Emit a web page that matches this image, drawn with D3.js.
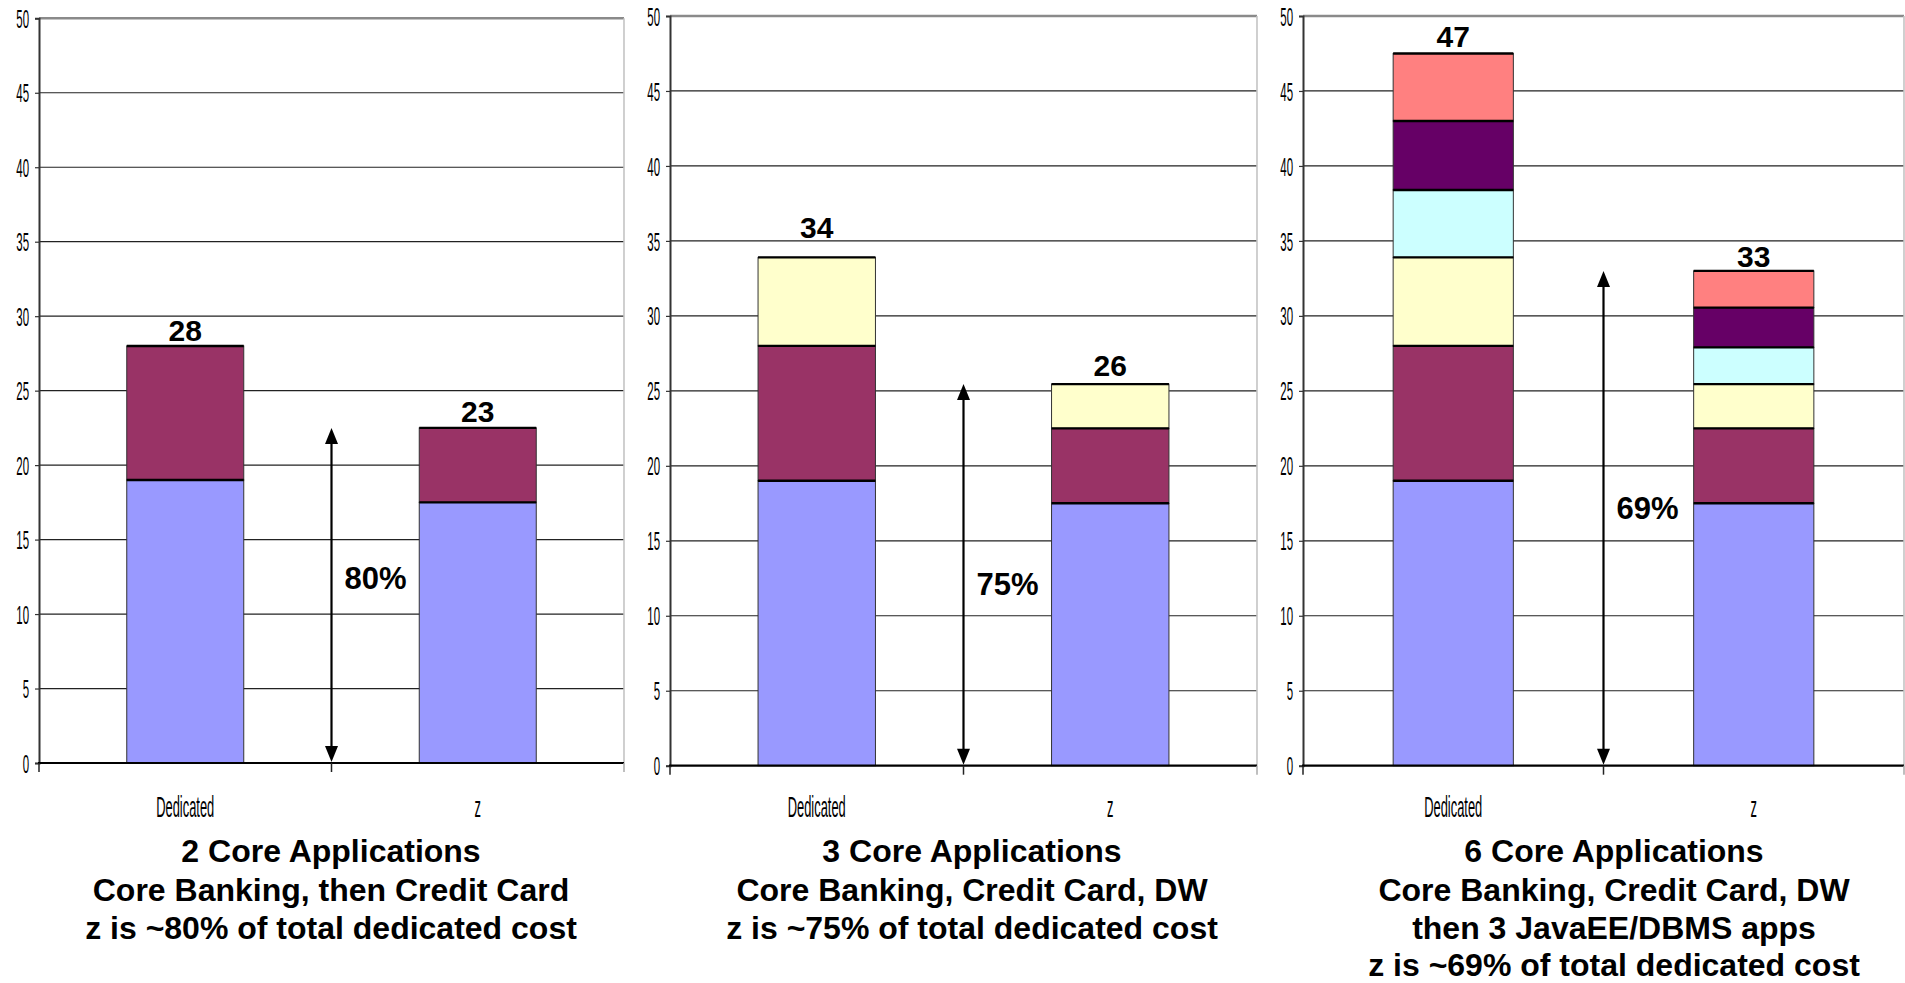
<!DOCTYPE html>
<html><head><meta charset="utf-8">
<script src="https://cdn.jsdelivr.net/npm/d3@7"></script>
<style>html,body{margin:0;padding:0;background:#fff;overflow:hidden}</style>
</head><body><svg id="c" width="1905" height="983"></svg>
<script>
// ---------- data ----------
const categories = ["Dedicated", "z"];
const seriesKeys = ["Core Banking", "Credit Card", "DW", "JavaEE/DBMS 1", "JavaEE/DBMS 2", "JavaEE/DBMS 3"];
const seriesColors = ["#9999FF", "#993366", "#FFFFCC", "#CCFFFF", "#660066", "#FF8080"];
const dedicatedValues = [19, 9, 5.9, 4.5, 4.6, 4.5];
const zValues = [17.5, 5, 2.95, 2.45, 2.65, 2.45];
const panelSeriesCount = [2, 3, 6];
const totalLabels = [["28", "23"], ["34", "26"], ["47", "33"]];
const percentLabels = ["80%", "75%", "69%"];
const yTickValues = [0, 5, 10, 15, 20, 25, 30, 35, 40, 45, 50];
const titleLines = [
  ["2 Core Applications", "Core Banking, then Credit Card", "z is ~80% of total dedicated cost"],
  ["3 Core Applications", "Core Banking, Credit Card, DW", "z is ~75% of total dedicated cost"],
  ["6 Core Applications", "Core Banking, Credit Card, DW", "then 3 JavaEE/DBMS apps", "z is ~69% of total dedicated cost"]
];

// ---------- layout ----------
const panels = [
  {x0: 39,   x1: 624,  yTop: 18.3, yBot: 763,   pctY: 589, titleX: 331,  labelGap: [5, 6]},
  {x0: 670,  x1: 1257, yTop: 16,   yBot: 765.7, pctY: 595, titleX: 972,  labelGap: [19, 8]},
  {x0: 1303, x1: 1904, yTop: 16,   yBot: 765.7, pctY: 519, titleX: 1614, labelGap: [6, 4]}
];
const titleBaselines = [862, 901, 939, 976];
const FONT = "'Liberation Sans', Arial, Helvetica, sans-serif";

const svg = d3.select("#c").style("font-family", FONT);

function condense(sel, f) {
  sel.each(function () {
    const L = this.getComputedTextLength();
    this.setAttribute("textLength", L * f);
    this.setAttribute("lengthAdjust", "spacingAndGlyphs");
  });
}

panels.forEach((p, pi) => {
  const g = svg.append("g");
  const y = d3.scaleLinear().domain([0, 50]).range([p.yBot, p.yTop]);
  const x = d3.scaleBand().domain(categories).range([p.x0, p.x1]).paddingInner(0.6).paddingOuter(0.3);
  const mid = (p.x0 + p.x1) / 2;

  // gridlines
  g.append("g").selectAll("line").data(yTickValues.filter(v => v > 0 && v < 50)).join("line")
    .attr("x1", p.x0).attr("x2", p.x1).attr("y1", d => y(d)).attr("y2", d => y(d))
    .attr("stroke", "#222").attr("stroke-width", 1.2);
  // top border
  g.append("line").attr("x1", p.x0).attr("x2", p.x1).attr("y1", y(50)).attr("y2", y(50))
    .attr("stroke", "#8a8a8a").attr("stroke-width", 2.6);
  // right border
  g.append("line").attr("x1", p.x1).attr("x2", p.x1).attr("y1", y(50)).attr("y2", y(0))
    .attr("stroke", "#c4c4c4").attr("stroke-width", 1.6);

  // stacked bars
  const n = panelSeriesCount[pi];
  const keys = seriesKeys.slice(0, n);
  const rows = categories.map((c, ci) => {
    const src = ci === 0 ? dedicatedValues : zValues;
    const r = {cat: c};
    keys.forEach((k, ki) => r[k] = src[ki]);
    return r;
  });
  const stack = d3.stack().keys(keys)(rows);
  const bars = g.append("g");
  stack.forEach((layer, li) => {
    bars.append("g").selectAll("rect").data(layer).join("rect")
      .attr("x", d => x(d.data.cat)).attr("width", x.bandwidth())
      .attr("y", d => y(d[1])).attr("height", d => y(d[0]) - y(d[1]))
      .attr("fill", seriesColors[li]).attr("stroke", "#333").attr("stroke-width", 1);
  });
  stack.forEach((layer) => {
    bars.append("g").selectAll("line").data(layer).join("line")
      .attr("x1", d => x(d.data.cat)).attr("x2", d => x(d.data.cat) + x.bandwidth())
      .attr("y1", d => y(d[1])).attr("y2", d => y(d[1]))
      .attr("stroke", "#000").attr("stroke-width", 2.4);
  });

  // left axis
  const ax = g.append("g").attr("transform", `translate(${p.x0},0)`)
    .call(d3.axisLeft(y).tickValues(yTickValues).tickSize(4).tickPadding(6).tickFormat(d3.format("d")));
  ax.select(".domain").attr("stroke", "#333").attr("stroke-width", 2);
  ax.selectAll(".tick line").attr("stroke", "#333").attr("stroke-width", 1.2);
  const tl = ax.selectAll(".tick text").attr("font-size", 26).attr("fill", "#000")
    .attr("font-family", FONT).attr("dy", "0.35em");
  condense(tl, 0.44);

  // bottom axis
  g.append("line").attr("x1", p.x0 - 1).attr("x2", p.x1).attr("y1", y(0)).attr("y2", y(0))
    .attr("stroke", "#000").attr("stroke-width", 2.2);
  g.append("g").selectAll("line").data([p.x0, mid, p.x1]).join("line")
    .attr("x1", d => d).attr("x2", d => d).attr("y1", y(0)).attr("y2", y(0) + 9)
    .attr("stroke", (d, i) => i === 2 ? "#aaa" : "#222").attr("stroke-width", 1.5);
  const cl = g.append("g").selectAll("text").data(categories).join("text")
    .attr("x", d => x(d) + x.bandwidth() / 2).attr("y", 817)
    .attr("text-anchor", "middle").attr("font-size", 30).attr("fill", "#000").text(d => d);
  condense(cl, 0.43);

  // totals
  g.append("g").selectAll("text").data(stack[stack.length - 1]).join("text")
    .attr("x", d => x(d.data.cat) + x.bandwidth() / 2).attr("y", (d, i) => y(d[1]) - p.labelGap[i])
    .attr("text-anchor", "middle").attr("font-size", 30).attr("font-weight", "bold")
    .text((d, i) => totalLabels[pi][i]);

  // arrow
  const zTop = stack[stack.length - 1][1][1];
  const ya = y(zTop), yb = y(0) - 1;
  const hw = 6.5, hl = 16;
  g.append("line").attr("x1", mid).attr("x2", mid).attr("y1", ya + hl - 2).attr("y2", yb - hl + 2)
    .attr("stroke", "#000").attr("stroke-width", 2.2);
  g.append("path").attr("d", `M${mid},${ya} L${mid - hw},${ya + hl} L${mid + hw},${ya + hl} Z`).attr("fill", "#000");
  g.append("path").attr("d", `M${mid},${yb} L${mid - hw},${yb - hl} L${mid + hw},${yb - hl} Z`).attr("fill", "#000");
  g.append("text").attr("x", mid + 13).attr("y", p.pctY).attr("font-size", 31).attr("font-weight", "bold")
    .text(percentLabels[pi]);

  // titles
  g.append("g").selectAll("text").data(titleLines[pi]).join("text")
    .attr("x", p.titleX).attr("y", (d, i) => titleBaselines[i])
    .attr("text-anchor", "middle").attr("font-size", 32).attr("font-weight", "bold").text(d => d);
});
</script>
</body></html>
